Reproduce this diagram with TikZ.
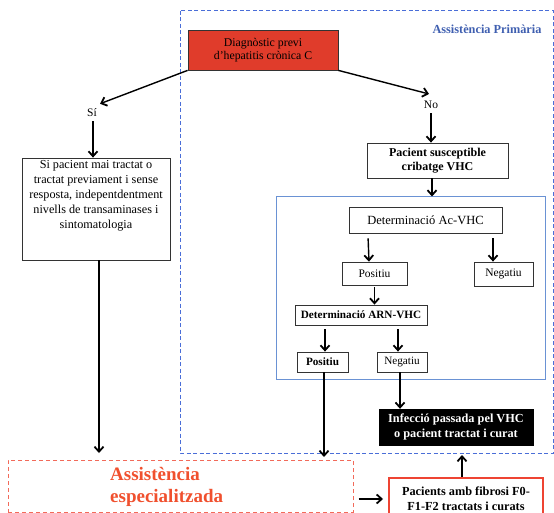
\documentclass[tikz,border=0pt]{standalone}
\usepackage{fontspec}
\setmainfont{Liberation Serif}
\usetikzlibrary{arrows.meta}

\definecolor{diagred}{HTML}{E03C2B}
\definecolor{primblue}{HTML}{4A6ED8}
\definecolor{primtext}{HTML}{3F5FB0}
\definecolor{innerblue}{HTML}{6A92D4}
\definecolor{espred}{HTML}{F26A5A}
\definecolor{esptext}{HTML}{F0502E}
\definecolor{fibred}{HTML}{EE4433}

\tikzset{
  flowbox/.style={draw=black!80, line width=0.8pt, fill=white, align=center,
    inner sep=2pt, font=\fontsize{12}{14}\selectfont},
  boldbox/.style={flowbox, font=\fontsize{12}{14}\selectfont\bfseries},
  arr/.style={draw=black, line width=1.4pt,
    -{Straight Barb[length=5pt,width=9pt,line width=1.8pt]}},
  lbl/.style={inner sep=1pt, font=\fontsize{11.5}{13}\selectfont},
}

\begin{document}
\begin{tikzpicture}[x=1pt,y=-1pt]
\useasboundingbox (0,0) rectangle (554,513);
\clip (0,0) rectangle (554,513);

% primary care area (blue dashed frame) and specialised care area (red dashed frame)
\draw[primblue, line width=1pt, dash pattern=on 4pt off 2.5pt]
  (180,11) rectangle (553,453);
\node[draw=espred, line width=1pt, dash pattern=on 4pt off 3pt,
  minimum width=345pt, minimum height=52pt, inner sep=0pt] (espbox) at (180.5,486) {};
\node[anchor=west, align=left, text=esptext, inner sep=0pt,
  font=\fontsize{19}{22}\selectfont\bfseries] (esp) at (110,487)
  {Assistència\\especialitzada};

\node[text=primtext, font=\fontsize{12.3}{14}\selectfont\bfseries] (prim) at (487,29)
  {Assistència Primària};

% screening box (blue solid frame)
\node[draw=innerblue, line width=1pt, minimum width=269pt, minimum height=182pt,
  inner sep=0pt] (screen) at (410.5,288) {};

% top of the flow
\node[flowbox, fill=diagred, minimum width=150pt, minimum height=40pt,
  font=\fontsize{11.8}{13.5}\selectfont] (diag) at (263,50)
  {Diagnòstic previ\\d’hepatitis crònica C};
\node[lbl] (si) at (92,113) {Sí};
\node[lbl] (no) at (431,105) {No};

% left branch
\node[flowbox, minimum width=148pt, minimum height=102pt] (mai) at (96,209) {};
\node[anchor=north, align=center, inner sep=0pt,
  font=\fontsize{12.2}{14.8}\selectfont] (maitext) at ([yshift=-3pt]mai.north)
  {Si pacient mai tractat o\\tractat previament i sense\\resposta, indepentdentment\\nivells de transaminases i\\sintomatologia};

% right branch
\node[boldbox, minimum width=141pt, minimum height=35pt] (pac) at (437.5,160.5)
  {Pacient susceptible\\cribatge VHC};
\node[flowbox, minimum width=153pt, minimum height=26pt,
  font=\fontsize{12.5}{14}\selectfont] (acvhc) at (425.5,220)
  {Determinació Ac-VHC};
\node[flowbox, minimum width=65pt, minimum height=23pt,
  font=\fontsize{11.5}{13}\selectfont] (pos1) at (374.5,273.5) {Positiu};
\node[flowbox, minimum width=59pt, minimum height=24pt,
  font=\fontsize{11.5}{13}\selectfont] (neg1) at (503.5,274) {Negatiu};
\node[boldbox, minimum width=132pt, minimum height=20pt,
  font=\fontsize{11.2}{13}\selectfont\bfseries] (arn) at (361,315) {Determinació ARN-VHC};
\node[boldbox, minimum width=51pt, minimum height=20pt,
  font=\fontsize{11.2}{13}\selectfont\bfseries] (pos2) at (322.5,362) {Positiu};
\node[flowbox, minimum width=50pt, minimum height=20pt,
  font=\fontsize{11.2}{13}\selectfont] (neg2) at (402,362) {Negatiu};

\node[draw=black, fill=black, text=white, align=center, minimum width=154pt,
  minimum height=36pt, inner sep=2pt, font=\fontsize{12.3}{14.5}\selectfont\bfseries]
  (past) at (456,427) {Infecció passada pel VHC\\o pacient tractat i curat};
\node[draw=fibred, line width=2pt, fill=white, align=center, minimum width=154pt,
  minimum height=42pt, inner sep=2pt, font=\fontsize{12.3}{15}\selectfont\bfseries]
  (fib) at (466,499) {Pacients amb fibrosi F0-\\F1-F2 tractats i curats};

% free ends of connectors that stop at a frame
\coordinate (maiend) at (99,453);
\coordinate (posend) at (324,457);
\coordinate (fibend) at (462,455);

% connectors
\draw[arr] (diag.south west) -- ([xshift=8pt,yshift=4pt]si.north);
\draw[arr] (diag.south east) -- ([xshift=-2pt,yshift=6pt]no.north);
\draw[arr] ([xshift=1pt,yshift=-3pt]si.south) -- ([xshift=-3pt]mai.north);
\draw[arr] ([yshift=-3pt]no.south) -- (no.south |- pac.north);
\draw[arr] ([xshift=-5.5pt]pac.south) -- ([xshift=-5.5pt]pac.south |- screen.north);
\draw[arr] ([yshift=-5pt]acvhc.south -| pos1.north west) ++(26.5pt,0) -- ([xshift=-5.5pt]pos1.north);
\draw[arr] ([yshift=-5pt]acvhc.south -| neg1.north) ++(-10.5pt,0) -- ([xshift=-10.5pt]neg1.north);
\draw[arr] ([yshift=-2pt]pos1.south) -- (pos1.south |- arn.north);
\draw[arr] ([yshift=-4pt]arn.south -| pos2.north) ++(2.5pt,0) -- ([xshift=2.5pt]pos2.north);
\draw[arr] ([yshift=-4pt]arn.south -| neg2.north) ++(-4pt,0) -- ([xshift=-4pt]neg2.north);
\draw[arr] (mai.south -| maiend) -- (maiend);
\draw[arr] ([xshift=1.5pt]pos2.south) -- (posend);
\draw[arr] ([xshift=-2pt]neg2.south) -- ([xshift=-2pt]neg2.south |- past.north);
\draw[arr] (fib.north -| fibend) -- (fibend);
\draw[arr] ([xshift=5pt]espbox.east |- fib.west) -- ([xshift=-5pt]fib.west);

\end{tikzpicture}
\end{document}
